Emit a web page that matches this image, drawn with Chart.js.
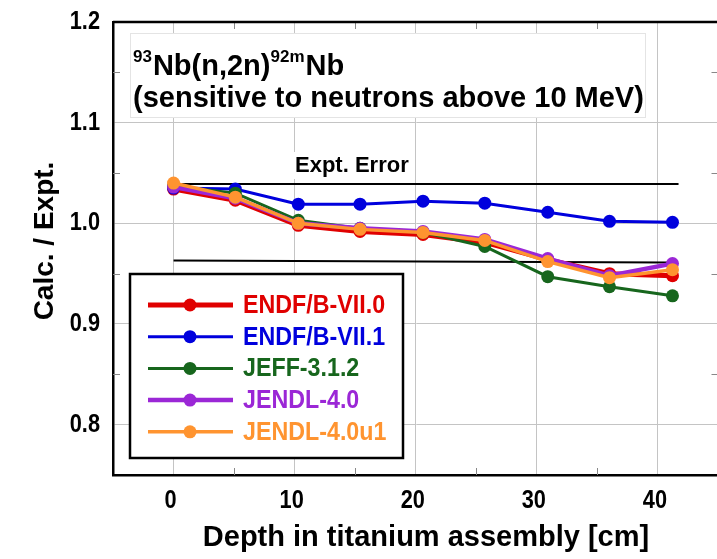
<!DOCTYPE html>
<html>
<head>
<meta charset="utf-8">
<title>Nb-93 (n,2n) C/E</title>
<script src="https://cdn.jsdelivr.net/npm/chart.js@4.4.0/dist/chart.umd.min.js"></script>
<style>
  html, body { margin: 0; padding: 0; background: #fff; overflow: hidden; }
  #wrap { width: 717px; height: 559px; overflow: hidden; }
</style>
</head>
<body>
<div id="wrap"><canvas id="ratioChart" width="725" height="559"></canvas></div>
<script>
// C/E values along the titanium assembly, one array per library
const depths = [0, 5.1, 10.3, 15.4, 20.6, 25.7, 30.9, 36.0, 41.2];
const endfb70 = [1.034, 1.023, 0.998, 0.992, 0.989, 0.981, 0.964, 0.950, 0.948];
const endfb71 = [1.035, 1.034, 1.019, 1.019, 1.022, 1.020, 1.011, 1.002, 1.001];
const jeff312 = [1.037, 1.030, 1.003, 0.995, 0.991, 0.977, 0.947, 0.937, 0.928];
const jendl40 = [1.036, 1.025, 1.000, 0.995, 0.992, 0.984, 0.965, 0.948, 0.960];
const jendl40u1 = [1.040, 1.026, 1.000, 0.994, 0.991, 0.983, 0.962, 0.946, 0.954];

// experimental error band edges
const errorUpperDepths = [0, 41.7];
const errorUpper = [1.039, 1.039];
const errorLowerDepths = [0, 40.8];
const errorLower = [0.963, 0.961];

const seriesNames = ['ENDF/B-VII.0', 'ENDF/B-VII.1', 'JEFF-3.1.2', 'JENDL-4.0', 'JENDL-4.0u1'];
const seriesValues = [endfb70, endfb71, jeff312, jendl40, jendl40u1];
const seriesColors = ['#e00000', '#0000dd', '#17661d', '#9b27d6', '#ff9430'];
const seriesWidths = [5, 3, 3, 4.5, 3.5];

const xTicks = [0, 10, 20, 30, 40];
const xMinor = [5, 15, 25, 35];
const yTicks = [0.8, 0.9, 1.0, 1.1, 1.2];
const yMinor = [0.85, 0.95, 1.05, 1.15];

const sans = "'Liberation Sans', Arial, sans-serif";

function toPoints(xs, ys) {
    return xs.map((x, i) => ({ x: x, y: ys[i] }));
}

const datasets = seriesNames.map((name, i) => ({
    label: name,
    data: toPoints(depths, seriesValues[i]),
    borderColor: seriesColors[i],
    backgroundColor: seriesColors[i],
    borderWidth: seriesWidths[i],
    pointRadius: 6.5,
    pointBorderWidth: 0,
    pointBackgroundColor: seriesColors[i],
    order: seriesNames.length - i
}));

[[errorUpperDepths, errorUpper], [errorLowerDepths, errorLower]].forEach(([xs, band]) => {
    datasets.push({
        label: 'error',
        isError: true,
        data: toPoints(xs, band),
        borderColor: '#000',
        borderWidth: 2,
        pointRadius: 0,
        order: 10
    });
});

// text squeezed horizontally by sx (the plot used a condensed face)
function fillScaled(ctx, text, x, y, sx) {
    ctx.save();
    ctx.translate(x, y);
    ctx.scale(sx, 1);
    ctx.fillText(text, 0, 0);
    ctx.restore();
}

function drawTextRun(ctx, parts, x, y, size) {
    parts.forEach(p => {
        const sz = p.sup ? Math.round(size * 0.58) : size;
        ctx.font = 'bold ' + sz + 'px ' + sans;
        ctx.fillText(p.t, x, p.sup ? y - size * 0.45 : y);
        x += ctx.measureText(p.t).width + (p.sup ? 1 : 0);
    });
}

// frame, tick labels, annotation boxes, legend and axis titles
const decorations = {
    id: 'decorations',
    afterDraw(chart) {
        const ctx = chart.ctx;
        const area = chart.chartArea;
        const xs = chart.scales.x;
        const ys = chart.scales.y;
        ctx.save();

        // inward minor ticks
        ctx.strokeStyle = '#888';
        ctx.lineWidth = 1;
        ctx.beginPath();
        xMinor.forEach(v => {
            const px = Math.round(xs.getPixelForValue(v)) + 0.5;
            ctx.moveTo(px, area.bottom); ctx.lineTo(px, area.bottom - 7);
            ctx.moveTo(px, area.top); ctx.lineTo(px, area.top + 7);
        });
        yMinor.forEach(v => {
            const py = Math.round(ys.getPixelForValue(v)) + 0.5;
            ctx.moveTo(area.left, py); ctx.lineTo(area.left + 7, py);
            ctx.moveTo(area.right, py); ctx.lineTo(area.right - 7, py);
        });
        ctx.stroke();

        // top and right edges of the frame
        ctx.strokeStyle = '#000';
        ctx.lineWidth = 2.5;
        ctx.beginPath();
        ctx.moveTo(area.left, area.top);
        ctx.lineTo(area.right, area.top);
        ctx.lineTo(area.right, area.bottom);
        ctx.stroke();

        // tick labels
        ctx.fillStyle = '#000';
        ctx.font = 'bold 25px ' + sans;
        ctx.textBaseline = 'middle';
        ctx.textAlign = 'center';
        xTicks.forEach(v => {
            fillScaled(ctx, String(v), xs.getPixelForValue(v) - 3, area.bottom + 26, 0.87);
        });
        ctx.textAlign = 'right';
        yTicks.forEach(v => {
            fillScaled(ctx, v.toFixed(1), 100, ys.getPixelForValue(v), 0.87);
        });

        // reaction label
        ctx.fillStyle = '#fff';
        ctx.fillRect(130, 33, 515, 84);
        ctx.strokeStyle = '#e4e4e4';
        ctx.lineWidth = 1;
        ctx.strokeRect(130.5, 33.5, 515, 84);
        ctx.fillStyle = '#000';
        ctx.textAlign = 'left';
        ctx.textBaseline = 'alphabetic';
        drawTextRun(ctx, [
            { t: '93', sup: true }, { t: 'Nb(n,2n)' },
            { t: '92m', sup: true }, { t: 'Nb' }
        ], 133, 75, 29);
        ctx.font = 'bold 29px ' + sans;
        ctx.fillText('(sensitive to neutrons above 10 MeV)', 133, 107);

        // error band label
        ctx.fillStyle = '#fff';
        ctx.fillRect(292, 152, 120, 27);
        ctx.fillStyle = '#000';
        ctx.font = 'bold 22px ' + sans;
        ctx.textBaseline = 'middle';
        ctx.fillText('Expt. Error', 295, 166);

        // legend box
        ctx.fillStyle = '#fff';
        ctx.fillRect(130, 274, 273, 184);
        ctx.strokeStyle = '#000';
        ctx.lineWidth = 2.5;
        ctx.strokeRect(130, 274, 273, 184);
        const rows = chart.data.datasets.filter(d => !d.isError);
        rows.forEach((d, i) => {
            const cy = 305 + i * 31.7;
            ctx.strokeStyle = d.borderColor;
            ctx.lineWidth = d.borderWidth;
            ctx.beginPath();
            ctx.moveTo(148, cy); ctx.lineTo(233, cy);
            ctx.stroke();
            ctx.fillStyle = d.borderColor;
            ctx.beginPath();
            ctx.arc(190, cy, 6.5, 0, Math.PI * 2);
            ctx.fill();
            ctx.font = 'bold 25px ' + sans;
            ctx.textAlign = 'left';
            ctx.textBaseline = 'middle';
            fillScaled(ctx, d.label, 243, cy + 1, 0.93);
        });

        // axis titles
        ctx.fillStyle = '#000';
        ctx.font = 'bold 29px ' + sans;
        ctx.textAlign = 'center';
        ctx.textBaseline = 'alphabetic';
        ctx.fillText('Depth in titanium assembly [cm]', 426, 546);
        ctx.font = 'bold 28px ' + sans;
        ctx.textBaseline = 'middle';
        ctx.translate(45, 241);
        ctx.rotate(-Math.PI / 2);
        ctx.fillText('Calc. / Expt.', 0, 0);

        ctx.restore();
    }
};

const ctx = document.getElementById('ratioChart').getContext('2d');

new Chart(ctx, {
    type: 'line',
    data: { datasets: datasets },
    options: {
        responsive: false,
        animation: false,
        devicePixelRatio: 1,
        layout: { padding: { top: 22, right: 2, left: 0, bottom: 0 } },
        plugins: {
            legend: { display: false },
            tooltip: { enabled: false }
        },
        scales: {
            x: {
                type: 'linear',
                min: -5,
                max: 45,
                afterBuildTicks: s => { s.ticks = xTicks.map(v => ({ value: v })); },
                afterFit: s => { s.height = 84; },
                grid: { color: '#c4c4c4', lineWidth: 1, drawTicks: false },
                border: { color: '#000', width: 2.5 },
                ticks: { display: false }
            },
            y: {
                min: 0.75,
                max: 1.2,
                afterBuildTicks: s => { s.ticks = yTicks.map(v => ({ value: v })); },
                afterFit: s => { s.width = 113; },
                grid: { color: '#c4c4c4', lineWidth: 1, drawTicks: false },
                border: { color: '#000', width: 2.5 },
                ticks: { display: false }
            }
        }
    },
    plugins: [decorations]
});
</script>
</body>
</html>
